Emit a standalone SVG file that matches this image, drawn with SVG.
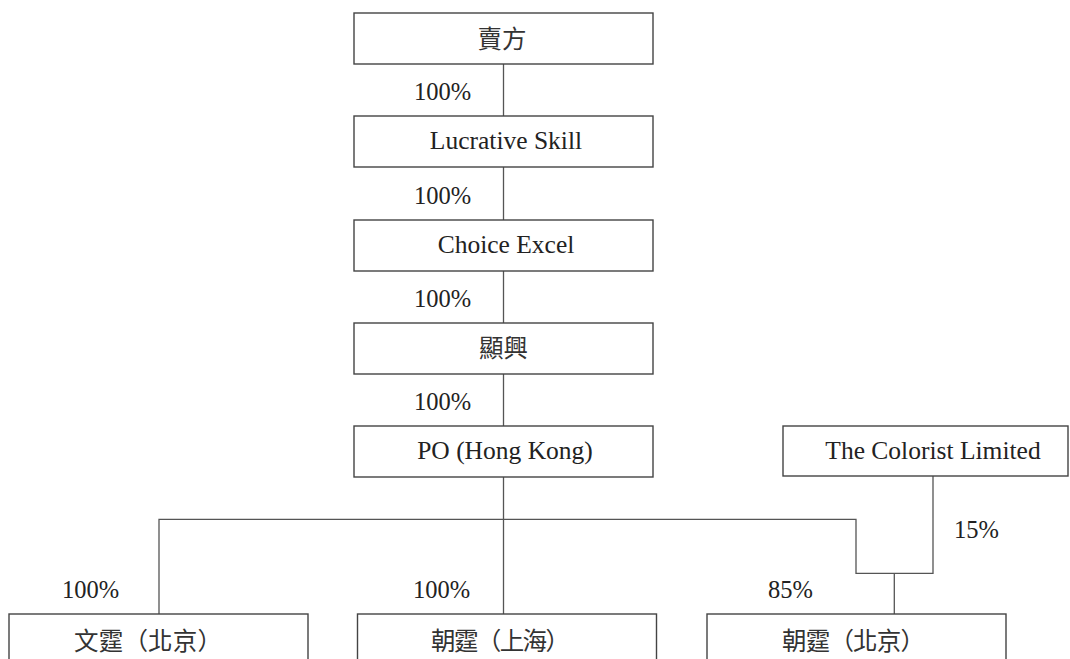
<svg xmlns="http://www.w3.org/2000/svg" width="1070" height="659" viewBox="0 0 1070 659">
<style>
.box{fill:#fff;stroke:#444;stroke-width:1.4}
.lbl{font-family:"Liberation Serif","Noto Sans CJK TC",serif;font-size:25.5px;fill:#222;text-anchor:middle}
.cjk{font-family:"Liberation Serif","Noto Sans CJK TC",serif;font-size:24.5px;fill:#333;text-anchor:middle}
.cjks{font-family:"Liberation Serif","Noto Sans CJK TC",serif;font-size:24.5px;fill:#333}
.pct{font-family:"Liberation Serif",serif;font-size:24.5px;fill:#222}
.ln{fill:none;stroke:#555;stroke-width:1.3}
</style>
<rect width="1070" height="659" fill="#fff"/>
<g id="connectors">
<path class="ln" d="M503.5 64V116M503.5 167V220M503.5 271V323M503.5 374V426"/>
<path class="ln" d="M503.5 477V614M159 614V519.3H856V573.3H933V476M894.3 573.3V614"/>
<text class="pct" x="414" y="100">100%</text>
<text class="pct" x="414" y="204">100%</text>
<text class="pct" x="414" y="307">100%</text>
<text class="pct" x="414" y="410">100%</text>
<text class="pct" x="62" y="598">100%</text>
<text class="pct" x="413" y="598">100%</text>
<text class="pct" x="768" y="598">85%</text>
<text class="pct" x="954" y="538">15%</text>
</g>
<g id="n1"><rect class="box" x="354" y="13" width="299" height="51"/><text class="cjk" x="502" y="48">賣方</text></g>
<g id="n2"><rect class="box" x="354" y="116" width="299" height="51"/><text class="lbl" x="506" y="149">Lucrative Skill</text></g>
<g id="n3"><rect class="box" x="354" y="220" width="299" height="51"/><text class="lbl" x="506" y="253">Choice Excel</text></g>
<g id="n4"><rect class="box" x="354" y="323" width="299" height="51"/><text class="cjk" x="503.5" y="357">顯興</text></g>
<g id="n5"><rect class="box" x="354" y="426" width="299" height="51"/><text class="lbl" x="505" y="459">PO (Hong Kong)</text></g>
<g id="n6"><rect class="box" x="783" y="426" width="285" height="50"/><text class="lbl" x="933" y="459">The Colorist Limited</text></g>
<g id="n7"><rect class="box" x="9" y="614" width="299" height="51"/><text class="cjks" x="74" y="650" textLength="148" lengthAdjust="spacing">文霆（北京）</text></g>
<g id="n8"><rect class="box" x="357.5" y="614" width="299" height="51"/><text class="cjks" x="431" y="650" textLength="139" lengthAdjust="spacing">朝霆（上海）</text></g>
<g id="n9"><rect class="box" x="707" y="614" width="299" height="51"/><text class="cjks" x="782" y="650" textLength="143" lengthAdjust="spacing">朝霆（北京）</text></g>
</svg>
